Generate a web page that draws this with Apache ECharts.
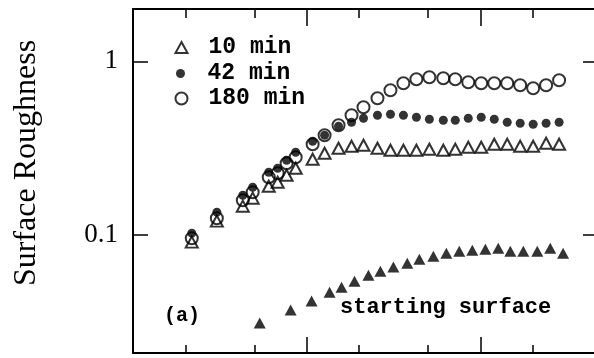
<!DOCTYPE html>
<html>
<head>
<meta charset="utf-8">
<script src="https://cdn.jsdelivr.net/npm/echarts@6/dist/echarts.min.js"></script>
<style>html,body{margin:0;padding:0;background:#fff}#c{width:594px;height:358px}</style>
</head>
<body>
<div id="c"></div>
<script>
// Scan length scale (log), shared by the three annealed runs
const xUpper = [0.218,0.304,0.429,0.489,0.605,0.681,0.767,0.865,1.083,1.269,1.527,1.814,2.126,2.559,3.040,3.609,4.288,5.093,6.127,7.18,8.53,10.13,12.04,14.30,16.98,20.17,23.95,28.45];
const rough10 = [0.0912,0.1204,0.1468,0.1632,0.1912,0.2016,0.2212,0.2427,0.2734,0.2961,0.3162,0.3247,0.329,0.3162,0.308,0.308,0.308,0.3121,0.308,0.3121,0.3204,0.3204,0.3334,0.3334,0.3247,0.3247,0.3379,0.3334];
const rough42 = [0.1027,0.1356,0.1698,0.1887,0.2302,0.2427,0.2698,0.2999,0.3469,0.3756,0.4231,0.4461,0.4704,0.4894,0.4960,0.4894,0.4767,0.4642,0.4581,0.4581,0.4704,0.4767,0.4642,0.4461,0.4402,0.4344,0.4402,0.4461];
const rough180 = [0.0961,0.1252,0.1589,0.1767,0.2154,0.2272,0.2593,0.2808,0.3334,0.3756,0.4287,0.4894,0.5441,0.6131,0.6813,0.7474,0.7881,0.8091,0.7985,0.7881,0.7574,0.7474,0.7474,0.7474,0.7278,0.6997,0.7278,0.7778];
const xStart = [0.537,0.809,1.068,1.356,1.589,1.887,2.27,2.66,3.16,3.80,4.46,5.37,6.38,7.57,9.0,10.7,12.7,14.9,17.7,21.3,25.3,30.0];
const roughStart = [0.0312,0.0371,0.0418,0.047,0.0502,0.0544,0.0589,0.0621,0.0655,0.069,0.0728,0.0757,0.0788,0.0809,0.082,0.0831,0.0842,0.0809,0.0809,0.0809,0.0842,0.0788];
const seriesNames = ['10 min','42 min','180 min','starting surface'];
const yTickValues = [0.1, 1];
const xMajorTicks = [1, 10];
const xMinorTicks = [0.2, 0.5, 2, 5, 20];
const xRange = [0.1, 45.2];
const yRange = [0.021, 2.0];

const pairs = (xs, ys) => xs.map((x, i) => [x, ys[i]]);
const chart = echarts.init(document.getElementById('c'), null, {renderer: 'canvas'});
const black = '#000';
const mono = '"Liberation Mono", "DejaVu Sans Mono", monospace';
const serif = '"Liberation Serif", "DejaVu Serif", serif';

function xAx(pos, ticks, len, line) {
  return {
    type: 'log', logBase: 10, min: xRange[0], max: xRange[1], position: pos,
    axisLine: {show: line, lineStyle: {color: black, width: 2}},
    axisTick: {show: true, inside: true, length: len, customValues: ticks, lineStyle: {color: black, width: 1.5}},
    axisLabel: {show: false}, splitLine: {show: false}, minorTick: {show: false}
  };
}
function yAx(pos, len, line, labels) {
  return {
    type: 'log', logBase: 10, min: yRange[0], max: yRange[1], position: pos,
    axisLine: {show: line, lineStyle: {color: black, width: 2}},
    axisTick: {show: true, inside: true, length: len, customValues: yTickValues, lineStyle: {color: black, width: 1.5}},
    axisLabel: {show: labels, customValues: yTickValues, margin: 15, color: black, fontFamily: serif, fontSize: 27},
    splitLine: {show: false}
  };
}
const hollow = {color: 'transparent', borderColor: black, borderWidth: 2};
const filled = {color: black, borderWidth: 0};

const legendRow = (name, top, w, h, left, pad) => ({
  data: [name], orient: 'vertical', left: left, top: top, padding: 0,
  itemWidth: w, itemHeight: h, selectedMode: false,
  textStyle: {color: black, fontFamily: mono, fontWeight: 'bold', fontSize: 23, lineHeight: 22, padding: [0, 0, 0, pad]}
});

chart.setOption({
  animation: false,
  grid: {left: 133, top: 9, right: 0, bottom: 5},
  xAxis: [xAx('bottom', xMajorTicks, 16, true), xAx('bottom', xMinorTicks, 8, false),
          xAx('top', xMajorTicks, 17, true), xAx('top', xMinorTicks, 9, false)],
  yAxis: [yAx('left', 15, true, true), yAx('right', 11, false, false)],
  legend: [legendRow(seriesNames[0], 36, 12, 11, 174.5, 16),
           legendRow(seriesNames[1], 62, 9, 9, 176, 17.5),
           legendRow(seriesNames[2], 87, 12, 12, 174.5, 16)],
  graphic: [
    {type: 'text', x: 27, y: 163, rotation: Math.PI / 2,
     style: {text: 'Surface Roughness', font: '32px ' + serif, fill: black, align: 'center', verticalAlign: 'middle'}},
    {type: 'text', left: 340, top: 296, style: {text: 'starting surface', font: 'bold 22px ' + mono, fill: black}},
    {type: 'text', left: 164, top: 306, style: {text: '(a)', font: 'bold 20px ' + mono, fill: black}}
  ],
  series: [
    {name: seriesNames[0], type: 'scatter', symbol: 'triangle', symbolSize: [12, 11], itemStyle: hollow, data: pairs(xUpper, rough10)},
    {name: seriesNames[1], type: 'scatter', symbol: 'circle', symbolSize: 9, itemStyle: filled, data: pairs(xUpper, rough42)},
    {name: seriesNames[2], type: 'scatter', symbol: 'circle', symbolSize: 12, itemStyle: hollow, data: pairs(xUpper, rough180)},
    {name: seriesNames[3], type: 'scatter', symbol: 'triangle', symbolSize: [12, 11], itemStyle: filled, data: pairs(xStart, roughStart)}
  ]
});
</script>
</body>
</html>
